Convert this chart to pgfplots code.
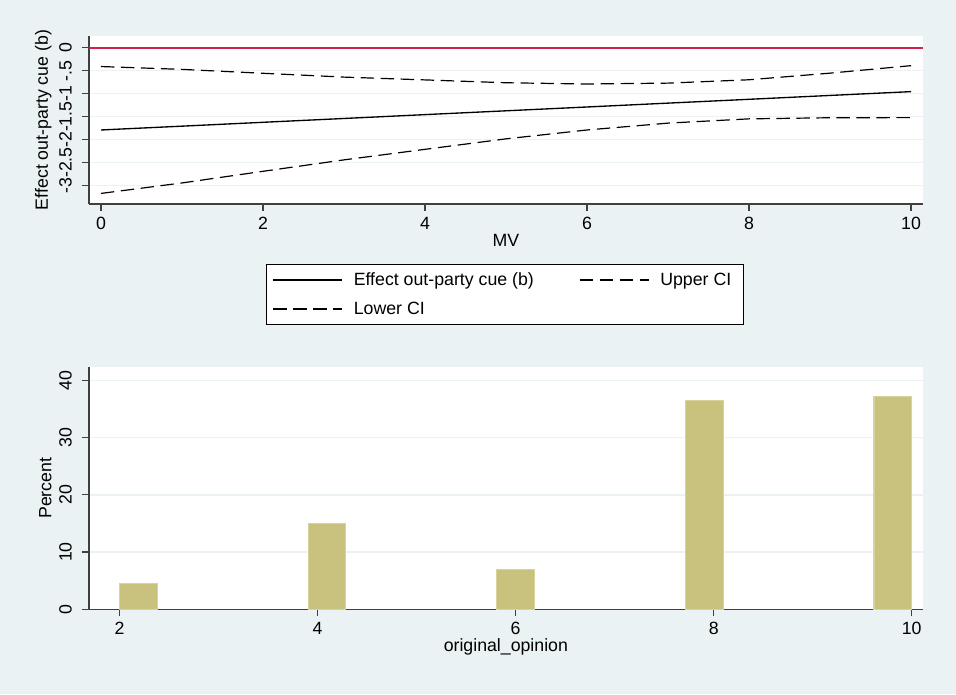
\documentclass[border=0pt]{standalone}
\usepackage{fontspec}
\setmainfont{Liberation Sans}
\usepackage{pgfplots}
\usepackage{pgfplotstable}
\pgfplotsset{compat=1.18}

\definecolor{bg}{RGB}{234,242,243}
\definecolor{gridc}{RGB}{234,242,243}
\definecolor{cue}{RGB}{210,30,72}
\definecolor{barfill}{RGB}{201,193,126}
\definecolor{baredge}{RGB}{216,211,153}

\pgfplotstableread{
x    b       U       L
0   -1.790  -0.410  -3.170
1   -1.707  -0.472  -2.942
2   -1.623  -0.557  -2.689
3   -1.540  -0.640  -2.440
4   -1.456  -0.701  -2.211
5   -1.373  -0.763  -1.983
6   -1.290  -0.790  -1.790
7   -1.206  -0.771  -1.641
8   -1.123  -0.698  -1.548
9   -1.039  -0.554  -1.524
10  -0.956  -0.391  -1.521
}\effecttable

\pgfplotstableread{
x       pct
2.1905  4.5
4.0952  15.0
6.0000  6.9
7.9048  36.4
9.8095  37.2
}\histtable

\newcommand{\fs}{\fontsize{13.3}{16}\selectfont}

\pgfplotsset{
  statastyle/.style={
    scale only axis,
    axis lines*=left,
    axis line style={draw=black!75, line width=0.9pt, -},
    tick style={draw=black!75, line width=0.9pt},
    tick align=outside,
    major tick length=5pt,
    minor tick num=0,
    ymajorgrids,
    grid style={draw=gridc, line width=1.1pt},
    axis background/.style={fill=white},
    /pgf/number format/assume math mode=true,
    tick label style={font=\fs},
    label style={font=\fs},
    yticklabel style={rotate=90, anchor=base},
    xticklabel style={anchor=base},
  }
}

\begin{document}
\begin{tikzpicture}
\fill[bg] (0pt,0pt) rectangle (717pt,520.5pt);
\useasboundingbox (0pt,0pt) rectangle (717pt,520.5pt);

% ---------- top panel ----------
\begin{axis}[
  statastyle,
  at={(66.75pt,367.5pt)}, anchor=south west,
  width=625.5pt, height=126pt,
  xmin=-0.148, xmax=10.148,
  ymin=-3.40, ymax=0.254,
  xtick={0,2,4,6,8,10},
  ytick={-3,-2.5,-2,-1.5,-1,-0.5,0},
  yticklabels={-3,-2.5,-2,-1.5,-1,-.5,0},
  xticklabel shift=14pt,
  yticklabel shift=8pt,
  xlabel={MV},
  ylabel={Effect out-party cue (b)},
  xlabel style={at={(axis description cs:0.5,-0.254)}, anchor=base},
  ylabel style={at={(axis description cs:-0.0548,0.5)}, anchor=center},
  legend columns=2,
  legend cell align=left,
  legend style={
    at={(axis description cs:0.2122,-0.357)}, anchor=north west,
    draw=black, line width=0.6pt, fill=white,
    font=\fs,
    inner xsep=0pt, inner ysep=4.1pt,
    row sep=6.7pt,
  },
  legend image code/.code={%
    \path[draw=none, fill=none] (0pt,0pt) -- (63.57pt,0pt);
    \draw[#1] (5.25pt,0pt) -- (56.75pt,0pt);},
]
\addplot[cue, line width=1.3pt, forget plot] coordinates {(-0.148,0) (10.148,0)};
\addplot[black, line width=1pt] table[x=x, y=b] {\effecttable};
\addlegendentry{\makebox[162.3pt][l]{\vphantom{()}Effect out-party cue (b)}}
\addplot[black, line width=0.9pt, dash pattern=on 10pt off 5pt] table[x=x, y=U] {\effecttable};
\addlegendentry{\makebox[60pt][l]{\vphantom{()}Upper CI}}
\addplot[black, line width=0.9pt, dash pattern=on 10pt off 5pt] table[x=x, y=L] {\effecttable};
\addlegendentry{\makebox[162.3pt][l]{\vphantom{()}Lower CI}}
\end{axis}

% ---------- bottom panel ----------
\begin{axis}[
  statastyle,
  at={(66.75pt,63.5pt)}, anchor=south west,
  width=625.3pt, height=181.7pt,
  xmin=1.692, xmax=10.111,
  ymin=0, ymax=42.3,
  xtick={2,4,6,8,10},
  ytick={0,10,20,30,40},
  xticklabel shift=13.5pt,
  yticklabel shift=8pt,
  xlabel={original\_opinion},
  ylabel={Percent},
  xlabel style={at={(axis description cs:0.5,-0.176)}, anchor=base},
  ylabel style={at={(axis description cs:-0.0522,0.5)}, anchor=center},
]
\addplot[ybar, bar width=0.381, fill=barfill, draw=baredge, line width=0.8pt] table[x=x, y=pct] {\histtable};
\end{axis}
\end{tikzpicture}
\end{document}
